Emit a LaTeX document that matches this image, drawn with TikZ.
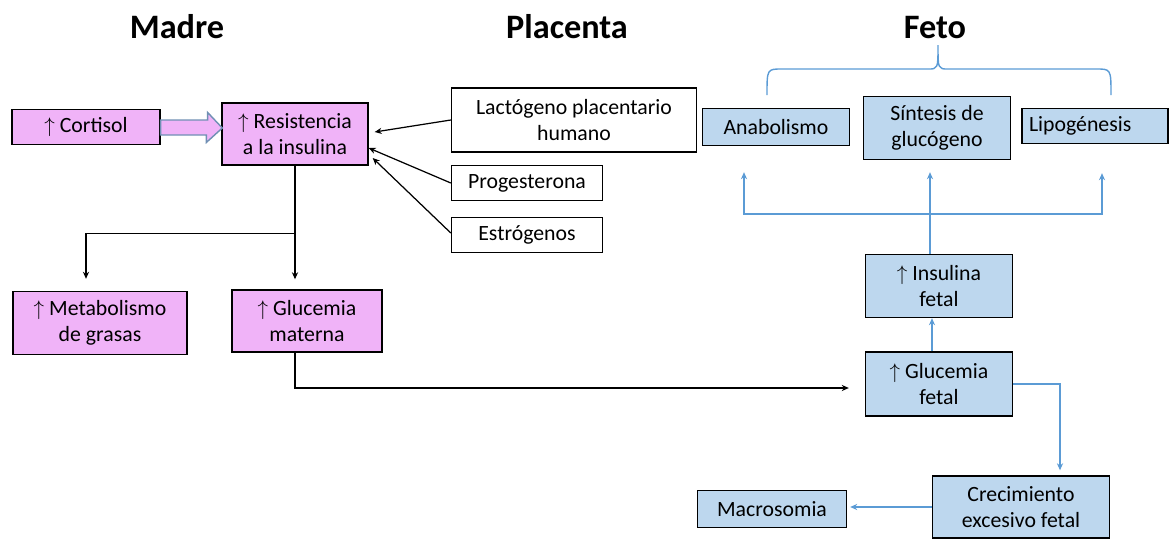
\documentclass[tikz,border=0pt]{standalone}
\usepackage{fontspec}
\setmainfont{Carlito}
\usetikzlibrary{calc,arrows.meta}

\definecolor{madrepink}{HTML}{F0B3F8}
\definecolor{fetoblue}{HTML}{BDD7EE}
\definecolor{lineblue}{HTML}{5B9BD5}
\definecolor{arrowedge}{HTML}{7090B4}

\tikzset{
  box/.style={draw=black, line width=0.8pt, align=center, inner sep=0pt,
    font=\fontsize{12.4}{14.6}\selectfont},
  mbox/.style={box, fill=madrepink},
  pbox/.style={box, fill=white},
  fbox/.style={box, fill=fetoblue},
  head/.style={font=\bfseries\fontsize{19.5}{23}\selectfont, anchor=base},
  blk/.style={draw=black, line width=0.7pt, -{Stealth[length=4pt,width=3.5pt]}},
  blu/.style={draw=lineblue, line width=0.8pt, -{Stealth[length=4pt,width=3.5pt]}},
  blunotip/.style={draw=lineblue, line width=0.8pt}
}

\begin{document}
\begin{tikzpicture}[x=0.02cm, y=-0.02cm]

\useasboundingbox (0,0) rectangle (1170,541);

% headings
\node[head] (madre) at (177,38) {Madre};
\node[head] (placenta) at (567,38) {Placenta};
\node[head] (feto) at (935,38) {Feto};

% mother side
\node[mbox, minimum width=2.96cm, minimum height=0.7cm] (cortisol) at (86,127) {$\uparrow$ Cortisol};
\node[mbox, minimum width=2.92cm, minimum height=1.24cm] (resist) at (295,134) {$\uparrow$ Resistencia\\a la insulina};
\node[mbox, minimum width=3.48cm, minimum height=1.26cm] (metab) at (100,323) {$\uparrow$ Metabolismo\\de grasas};
\node[mbox, minimum width=3.0cm, minimum height=1.24cm] (glucmat) at (307,321) {$\uparrow$ Glucemia\\materna};

% placenta
\node[pbox, minimum width=4.9cm, minimum height=1.28cm] (lacto) at (574,120) {Lactógeno placentario\\humano};
\node[pbox, minimum width=3.02cm, minimum height=0.7cm] (proges) at (527,183) {Progesterona};
\node[pbox, minimum width=3.02cm, minimum height=0.7cm] (estro) at (527,235) {Estrógenos};

% fetus
\node[fbox, minimum width=2.94cm, minimum height=0.74cm] (anab) at (776,127) {Anabolismo};
\node[fbox, minimum width=2.94cm, minimum height=1.26cm] (sintesis) at (937,128) {Síntesis de\\glucógeno};
\node[fbox, text width=2.64cm, align=left, inner xsep=0.14cm, minimum height=0.7cm] (lipo) at (1095,126) {Lipogénesis};
\node[fbox, minimum width=2.94cm, minimum height=1.26cm] (insfet) at (939,286) {$\uparrow$ Insulina\\fetal};
\node[fbox, minimum width=2.94cm, minimum height=1.28cm] (glucfet) at (939,384) {$\uparrow$ Glucemia\\fetal};
\node[fbox, minimum width=3.54cm, minimum height=1.24cm] (crec) at (1021,507) {Crecimiento\\excesivo fetal};
\node[fbox, minimum width=2.98cm, minimum height=0.74cm] (macro) at (772,509) {Macrosomia};

% cortisol block arrow
\filldraw[fill=madrepink, draw=arrowedge, line width=0.8pt]
  ($(cortisol.east)+(0,-7)$) -- ++(47,0) -- ++(0,-7.5) -- ($(resist.west)+(1,-6)$)
  -- ++(-16,14.5) -- ++(0,-7.5) -- ($(cortisol.east)+(0,8)$) -- cycle;

% placenta hormones
\draw[blk] (lacto.west) -- ($(resist.east)+(6,-2)$);
\draw[blk] (proges.west) -- ($(resist.east)+(0,14)$);
\draw[blk] ($(estro.west)+(0,-2)$) -- ($(resist.east)+(4,24)$);

% resistance branches
\coordinate (split) at ($(resist.south)+(0,68)$);
\draw[blk] (resist.south) -- ($(resist.south |- glucmat.north)+(0,-10)$);
\draw[blk] (split) -| ($(metab.north)+(-14,-12)$);

% maternal to fetal glucose
\draw[blk] ($(glucmat.south)+(-12,0)$) |- ($(glucfet.west)+(-16,4)$);

% fetal insulin
\draw[blu] ($(glucfet.north)+(-7,0)$) -- ($(insfet.south)+(-7,0)$);
\coordinate (hub) at ($(insfet.north)+(-9,-40)$);
\draw[blunotip] ($(insfet.north)+(-9,0)$) -- (hub);
\draw[blu] (hub) -- ($(sintesis.south)+(-7,12)$);
\draw[blu] (hub) -| ($(anab.south)+(-32,26)$);
\draw[blu] (hub) -| ($(lipo.south)+(7,29)$);

% brace over effects
\draw[lineblue, line width=0.8pt]
  (767,95) .. controls (767,69) .. (782,69) -- (928,69)
  .. controls (938,69) .. (938,45) .. controls (938,69) .. (948,69)
  -- (1096,69) .. controls (1111,69) .. (1111,95);

% growth
\draw[blu] (glucfet.east) -| ($(crec.north)+(39,-5)$);
\draw[blu] (crec.west) -- ($(macro.east)+(3,-2)$);

\end{tikzpicture}
\end{document}
